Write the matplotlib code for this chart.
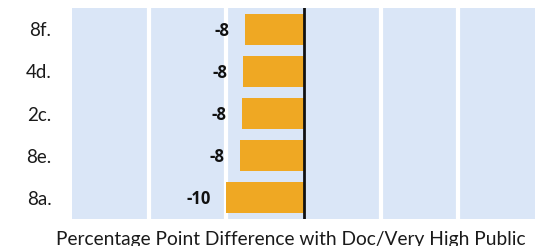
import matplotlib
matplotlib.use('Agg')
import matplotlib.pyplot as plt

plt.rcParams['font.family'] = ['Lato', 'DejaVu Sans']

items = ['8f.', '4d.', '2c.', '8e.', '8a.']
values = [-7.6, -7.9, -8.0, -8.3, -10.0]
labels = ['-8', '-8', '-8', '-8', '-10']

fig = plt.figure(figsize=(5.59, 2.46), dpi=100)
ax = fig.add_axes([0.129, 0.110, 0.828, 0.857])
ax.set_facecolor('#dae6f7')

pos = list(range(len(items)))[::-1]
ax.barh(pos, values, height=0.74, color='#efa823', zorder=3)
for y, v, t in zip(pos, values, labels):
    ax.annotate(t, (v, y), xytext=(-11, -1), textcoords='offset points',
                ha='right', va='center', fontsize=12, fontweight='bold',
                family=['Open Sans', 'DejaVu Sans'], color='#111111')

ax.set_xlim(-30, 30)
ax.set_ylim(-0.5, 4.5)
ax.set_xticks([-20, -10, 10, 20])
ax.xaxis.grid(True, color='white', linewidth=3, zorder=1)
ax.set_axisbelow(True)
ax.axvline(0, color='#111111', linewidth=2, zorder=4)
ax.tick_params(axis='x', length=0, labelbottom=False)
ax.tick_params(axis='y', length=0, pad=15, labelsize=13.5, labelcolor='#1a1a1a')
ax.set_yticks(pos)
ax.set_yticklabels(items)
for s in ax.spines.values():
    s.set_visible(False)
ax.set_xlabel('Percentage Point Difference with Doc/Very High Public', fontsize=13.8,
              color='#1a1a1a')
ax.xaxis.set_label_coords(0.472, -0.055)
ax.xaxis.label.set_va('top')

fig.savefig('out.png', dpi=100)
